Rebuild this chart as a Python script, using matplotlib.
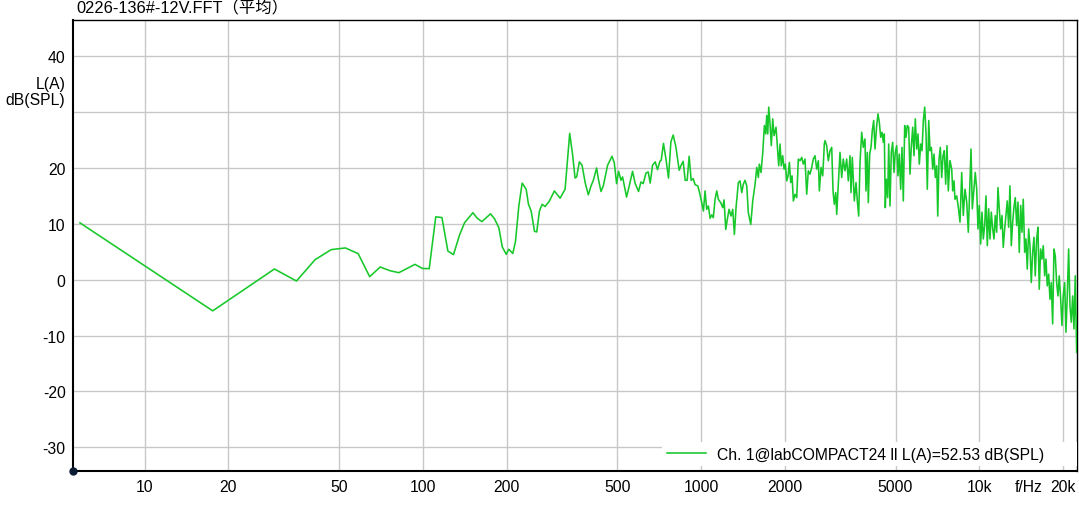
"""Recreate the averaged FFT spectrum plot (0226-136#-12V) as out.png."""

import matplotlib

matplotlib.use("Agg")

import matplotlib.pyplot as plt
import matplotlib.transforms as mtransforms
from matplotlib.ticker import NullLocator

TITLE = "0226-136#-12V.FFT（平均）"
SERIES_LABEL = "Ch. 1@labCOMPACT24 ll L(A)=52.53 dB(SPL)"
LINE_COLOR = "#17c82a"
FONT_SIZE = 11.3

# readings, below 1 kHz
freq_low = [
    5.86, 17.58, 29.30, 35.16, 41.02, 46.88, 52.73, 58.59, 64.45, 70.31,
    76.17, 82.03, 93.75, 99.61, 105.47, 111.33, 117.19, 123.05, 128.91,
    135.7, 141.3, 151.4, 157.0, 163.1, 175.2, 181.1, 187.7, 193.0, 199.5,
    203.8, 210.6, 215.4, 221.4, 227.6, 235.3, 239.8, 245.2, 252.0, 256.8,
    262.6, 268.5, 275.2, 285.2, 297.2, 311.5, 324.7, 337.3, 345.7, 352.6,
    357.3, 365.4,
    373.6, 384.0, 393.6, 402.5, 410.2, 421.5, 428.5, 437.1, 445.4, 461.6,
    478.7, 487.9, 497.3, 505.5, 515.6, 522.5, 540.0, 552.2, 567.4, 580.2,
    596.3, 608.3, 619.8, 633.9, 645.9, 656.7, 669.4, 684.5, 697.6, 711.5,
    719.3, 733.0, 747.7, 764.0, 779.3, 794.2, 812.1, 834.6, 848.4, 862.6,
    877.0, 891.6, 906.4, 921.6, 937.0, 952.4, 973.9, 984.5,
]
level_low = [
    10.18, -5.57, 1.92, -0.23, 3.59, 5.39, 5.69, 4.67, 0.54, 2.28,
    1.62, 1.26, 2.75, 2.03, 1.97, 11.26, 11.13, 5.15, 4.49,
    8.06, 10.2, 12.0, 11.0, 10.4, 11.8, 10.9, 9.3, 5.9, 4.55,
    5.45, 4.7, 6.85, 13.2, 17.3, 16.2, 13.5, 12.3, 8.67, 8.55,
    12.3, 13.5, 13.1, 14.1, 15.9, 14.6, 16.2, 26.2, 22.3, 18.2,
    18.4, 21.1,
    20.5, 17.2, 15.2, 16.8, 17.8, 20.0, 17.8, 15.8, 16.8, 20.5,
    22.1, 20.9, 17.2, 19.4, 17.8, 18.4, 14.8, 16.8, 19.4, 17.2,
    15.8, 17.5, 17.2, 19.1, 19.3, 17.3, 20.5, 21.1, 19.7, 21.2,
    21.4, 24.4, 21.7, 18.2, 24.7, 25.9, 23.8, 19.6, 20.5, 21.2,
    17.8, 17.8, 22.1, 17.8, 18.1, 17.0, 16.8, 15.9,
]

# 1 kHz .. 5 kHz
freq_mid = [
    1006, 1020, 1034, 1048, 1063, 1078, 1093, 1107, 1123, 1139,
    1154, 1177, 1197, 1210, 1227, 1243, 1261, 1282, 1300, 1318,
    1336, 1362, 1381, 1401, 1419, 1439, 1460, 1479, 1509, 1534,
    1564, 1586, 1607, 1620, 1643, 1667, 1689, 1708, 1722, 1737,
    1751, 1770, 1789, 1810, 1830, 1860, 1880, 1902, 1923, 1943,
    1966, 1988, 2009, 2033, 2055, 2077, 2101, 2124, 2147, 2177,
    2208, 2237, 2269, 2301, 2331, 2364, 2398, 2430, 2464, 2499,
    2532, 2568, 2605, 2640, 2662, 2700, 2738, 2774,
    2790, 2829, 2867, 2908, 2949, 2981, 3013, 3049, 3074, 3115,
    3158, 3203, 3245, 3291, 3338, 3383, 3431, 3460, 3497, 3555,
    3606, 3645, 3687, 3727, 3780, 3830, 3884, 3916, 3959, 3992,
    4038, 4082, 4126, 4174, 4220, 4279, 4325, 4372, 4423, 4471,
    4520, 4557, 4595, 4634, 4687, 4726, 4777, 4828, 4884, 4937,
    4990,
]
level_mid = [
    13.8, 12.3, 15.9, 12.6, 13.2, 11.0, 11.6, 11.1, 14.4, 15.9,
    14.4, 13.8, 12.9, 14.3, 9.0, 10.8, 12.6, 11.4, 12.6, 8.1,
    12.9, 17.4, 17.7, 15.6, 17.1, 17.8, 16.8, 12.0, 9.9, 14.1,
    17.1, 20.1, 18.3, 20.7, 19.2, 22.8, 27.6, 26.1, 29.4, 26.1,
    30.9, 27.9, 24.0, 28.8, 25.8, 27.3, 24.0, 20.4, 24.3, 20.4,
    22.2, 19.8, 20.7, 17.7, 18.6, 21.0, 17.4, 18.6, 14.1, 15.3,
    14.7, 21.6, 21.3, 21.9, 20.7, 21.6, 15.3, 19.5, 18.9, 20.1,
    21.6, 22.2, 19.8, 21.3, 15.9, 20.1, 18.6, 24.3,
    24.9, 24.0, 21.3, 23.1, 23.7, 15.9, 13.5, 15.6, 11.7, 17.1,
    22.8, 18.3, 21.6, 19.5, 21.6, 17.7, 22.2, 15.6, 21.9, 14.1,
    17.4, 14.1, 11.4, 21.0, 26.4, 23.7, 25.2, 15.9, 22.8, 13.8,
    22.5, 23.7, 26.7, 28.5, 23.4, 27.6, 29.7, 28.2, 25.5, 26.4,
    24.6, 26.1, 12.9, 18.0, 14.7, 24.3, 13.2, 22.8, 24.6, 19.2,
    22.8,
]

# above 5 kHz
freq_high = [
    5049, 5103, 5158, 5218, 5275, 5333, 5395, 5453, 5512, 5576,
    5637, 5697, 5764, 5827, 5889, 5959, 6023, 6088, 6159, 6226,
    6294, 6367, 6436, 6505, 6582, 6652, 6725, 6804, 6877, 6951,
    7032, 7091, 7168, 7244, 7329, 7407, 7487, 7574, 7656, 7739,
    7829, 7849, 7960, 8026, 8112, 8180, 8295, 8407, 8526, 8647,
    8761, 8887, 9013, 9132, 9262, 9339, 9440, 9573, 9675, 9789,
    9894, 10000, 10116, 10226, 10337, 10457, 10571, 10686, 10810, 10927,
    11044, 11174, 11293, 11416, 11550, 11673, 11799, 11936, 12066, 12194,
    12339, 12470, 12606, 12755, 12891, 13032, 13183, 13326, 13471, 13627,
    13775, 13922, 14086, 14236, 14391, 14561, 14716, 14876, 15048, 15212,
    15377, 15555, 15724, 15892, 16079, 16250, 16427, 16617, 16798, 16981,
    17178, 17365, 17550, 17757, 17950, 18141, 18355, 18551, 18752, 18970,
    19176, 19385, 19610, 19823, 20035, 20272, 20488, 20711, 20951, 21179,
    21409, 21658, 21893, 22126, 22387,
]
level_high = [
    24.0, 18.6, 22.5, 16.2, 23.7, 14.1, 27.6, 25.5, 27.6, 27.3,
    18.9, 23.7, 27.3, 22.2, 28.8, 23.4, 26.1, 20.7, 24.3, 23.1,
    28.5, 30.9, 26.1, 16.2, 28.5, 23.1, 23.7, 19.8, 22.5, 18.3,
    20.4, 11.4, 21.6, 23.7, 18.3, 22.2, 23.1, 17.1, 24.0, 15.9,
    20.7, 21.3, 19.8, 15.9, 17.7, 14.4, 15.0, 13.0, 10.3, 19.2,
    11.5, 16.2, 13.9, 8.5, 18.0, 23.4, 12.7, 16.5, 19.2, 16.2,
    9.1, 13.3, 6.4, 12.1, 7.3, 9.7, 15.0, 6.1, 12.7, 7.3,
    12.1, 9.1, 7.3, 11.5, 8.5, 16.5, 12.7, 9.1, 11.5, 5.8,
    9.1, 11.5, 14.1, 9.4, 16.8, 6.1, 10.3, 13.0, 14.7, 9.7,
    13.9, 4.9, 13.3, 8.5, 14.4, 4.9, 7.3, 1.9, 9.1, 6.1,
    -0.5, 4.9, 7.6, 0.7, 7.3, 9.4, -1.7, 5.5, 3.7, 6.1,
    0.7, 3.7, -1.1, 1.0, -3.5, -0.5, -7.9, 5.5, 4.3, -0.5,
    -2.9, 0.7, -3.5, -8.2, -2.9, -0.5, -9.4, -2.9, 5.5, -4.7,
    -7.6, -2.9, -8.8, 0.7, -13.0,
]

x_ticks = [10, 20, 50, 100, 200, 500, 1000, 2000, 5000, 10000, 20000]
x_tick_labels = ["10", "20", "50", "100", "200", "500", "1000", "2000", "5000", "10k", "20k"]
y_ticks = [-30, -20, -10, 0, 10, 20, 30, 40]
y_tick_labels = ["-30", "-20", "-10", "0", "10", "20", "", "40"]

X_LIMITS = (5.545, 22440)
Y_LIMITS = (-34.24, 46.55)


def main() -> None:
    plt.rcParams["font.family"] = ["Liberation Sans", "Noto Sans CJK SC", "DejaVu Sans"]
    plt.rcParams["font.size"] = FONT_SIZE

    fig = plt.figure(figsize=(10.79, 5.06), dpi=100)
    ax = fig.add_axes([0.0679, 0.0672, 0.9302, 0.8919])

    freqs = freq_low + freq_mid + freq_high
    levels = level_low + level_mid + level_high
    ax.plot(freqs, levels, color=LINE_COLOR, lw=1.15, label=SERIES_LABEL, zorder=3)

    ax.set_xscale("log")
    ax.set_xlim(*X_LIMITS)
    ax.set_ylim(*Y_LIMITS)
    ax.set_xticks(x_ticks)
    ax.set_xticklabels(x_tick_labels)
    ax.xaxis.set_minor_locator(NullLocator())
    ax.set_yticks(y_ticks)
    ax.set_yticklabels(y_tick_labels)
    ax.tick_params(axis="both", length=0, labelsize=FONT_SIZE, colors="black")
    ax.tick_params(axis="x", pad=6)
    ax.tick_params(axis="y", pad=5.5)
    ax.grid(True, color="#c8c8c8", lw=1.0)
    ax.set_axisbelow(True)

    for side in ("top", "right"):
        ax.spines[side].set_linewidth(1.0)
    for side in ("left", "bottom"):
        ax.spines[side].set_linewidth(1.5)

    # origin marker at the lower left corner
    ax.plot([X_LIMITS[0]], [Y_LIMITS[0]], "o", color="#0b1b33", ms=5, clip_on=False, zorder=6)

    blend_y = mtransforms.blended_transform_factory(ax.transAxes, ax.transData)
    ax.text(-0.008, 33.7, "L(A)\ndB(SPL)", transform=blend_y, ha="right", va="center",
            fontsize=FONT_SIZE, linespacing=1.15)
    blend_x = mtransforms.blended_transform_factory(ax.transData, ax.transAxes)
    ax.text(15000, -0.034, "f/Hz", transform=blend_x, ha="center", va="center", fontsize=FONT_SIZE)

    fig.text(76 / 1079, 1 - 8 / 506, TITLE, ha="left", va="center", fontsize=11.8)

    leg = ax.legend(loc="lower left", bbox_to_anchor=(0.587, 0.01, 0.413, 0.05), mode="expand",
                    borderaxespad=0, borderpad=0.3, handlelength=2.5, handletextpad=0.7,
                    fancybox=False, framealpha=1.0, fontsize=FONT_SIZE)
    leg.get_frame().set_edgecolor("none")
    leg.get_frame().set_facecolor("white")

    fig.savefig("out.png", dpi=100)
    plt.close(fig)


if __name__ == "__main__":
    main()
